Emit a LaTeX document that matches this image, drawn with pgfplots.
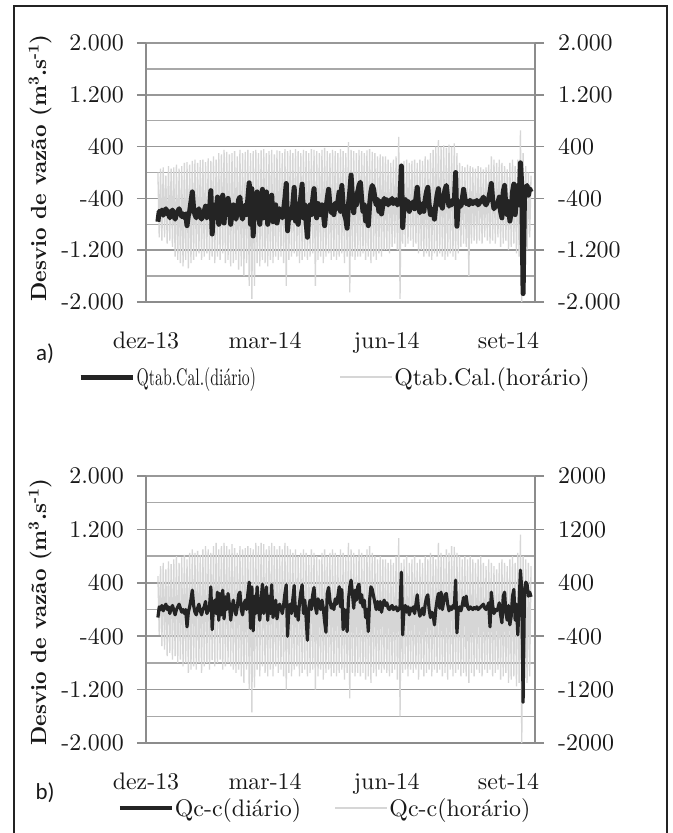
\documentclass[border=0pt]{standalone}
\usepackage{fontspec}
\setmainfont{lmroman10-regular.otf}[BoldFont=lmroman10-bold.otf]
\newfontfamily\carlito{Carlito}
\usepackage{graphicx}
\usepackage{pgfplots}
\usepackage{pgfplotstable}
\pgfplotsset{compat=1.18}

\definecolor{gridmaj}{RGB}{152,152,152}
\definecolor{gridmin}{RGB}{168,168,168}
\definecolor{axisc}{RGB}{140,140,140}
\definecolor{dailyc}{RGB}{36,36,36}
\definecolor{hourc}{RGB}{214,214,214}
\definecolor{framec}{RGB}{35,35,35}
\definecolor{txtc}{RGB}{25,25,25}

\newcommand{\tickfont}{\fontsize{24}{28}\selectfont}

% daily series, panel a (days 9..291 after 1 Dec 2013)
\pgfplotstableread[row sep=\\]{v\\
-760\\ -600\\ -640\\ -580\\ -660\\ -600\\ -560\\ -640\\ -600\\ -700\\
-620\\ -580\\ -650\\ -720\\ -640\\ -600\\ -560\\ -620\\ -680\\ -640\\
-700\\ -640\\ -820\\ -660\\ -600\\ -450\\ -300\\ -560\\ -650\\ -700\\
-620\\ -560\\ -660\\ -720\\ -640\\ -600\\ -520\\ -700\\ -660\\ -600\\
-280\\ -950\\ -600\\ -500\\ -700\\ -380\\ -800\\ -400\\ -720\\ -350\\
-780\\ -450\\ -650\\ -400\\ -560\\ -800\\ -620\\ -500\\ -650\\ -720\\
-600\\ -420\\ -380\\ -650\\ -720\\ -560\\ -500\\ -650\\ -400\\ -160\\
-800\\ -250\\ -980\\ -450\\ -700\\ -300\\ -620\\ -800\\ -500\\ -260\\
-700\\ -560\\ -300\\ -800\\ -450\\ -700\\ -350\\ -760\\ -600\\ -500\\
-780\\ -650\\ -560\\ -620\\ -700\\ -580\\ -400\\ -170\\ -900\\ -620\\
-560\\ -700\\ -480\\ -230\\ -750\\ -600\\ -800\\ -540\\ -380\\ -180\\
-700\\ -500\\ -760\\ -1000\\ -620\\ -500\\ -650\\ -420\\ -250\\ -600\\
-700\\ -480\\ -560\\ -650\\ -500\\ -620\\ -820\\ -560\\ -400\\ -260\\
-500\\ -620\\ -560\\ -650\\ -480\\ -560\\ -450\\ -300\\ -600\\ -200\\
-520\\ -650\\ -720\\ -860\\ -500\\ -300\\ -40\\ -400\\ -620\\ -350\\
-500\\ -300\\ -200\\ -150\\ -420\\ -600\\ -500\\ -750\\ -650\\ -820\\
-500\\ -300\\ -200\\ -260\\ -400\\ -500\\ -420\\ -600\\ -450\\ -640\\
-500\\ -400\\ -480\\ -420\\ -500\\ -430\\ -470\\ -400\\ -480\\ -450\\
-420\\ -500\\ -460\\ -400\\ 100\\ -850\\ -500\\ -420\\ -560\\ -450\\
-600\\ -480\\ -520\\ -450\\ -560\\ -400\\ -230\\ -500\\ -620\\ -540\\
-480\\ -600\\ -420\\ -300\\ -230\\ -500\\ -650\\ -560\\ -600\\ -720\\
-500\\ -350\\ -250\\ -500\\ -450\\ -550\\ -380\\ -260\\ -200\\ -400\\
-520\\ -450\\ -500\\ -420\\ -480\\ 0\\ -830\\ -500\\ -450\\ -520\\
-420\\ -260\\ -400\\ -480\\ -450\\ -500\\ -430\\ -460\\ -480\\ -450\\
-470\\ -430\\ -500\\ -470\\ -440\\ -420\\ -380\\ -470\\ -500\\ -450\\
-400\\ -300\\ -170\\ -420\\ -560\\ -500\\ -520\\ -470\\ -380\\ -600\\
-700\\ -300\\ -200\\ -550\\ -650\\ -450\\ -750\\ -600\\ -300\\ -180\\
-650\\ -400\\ -200\\ -500\\ 150\\ -200\\ -1870\\ -400\\ -250\\ -200\\
-350\\ -250\\ -300\\
}\dailyA

% hourly series, panel a, thinned to one value a day (alternate highs and lows)
\pgfplotstableread[row sep=\\]{v\\
0\\ -1000\\ 60\\ -1050\\ 80\\ -1000\\ -50\\ -1100\\ 100\\ -1050\\ 60\\ -1150\\
80\\ -1300\\ 120\\ -1350\\ 60\\ -1400\\ 100\\ -1450\\ 150\\ -1350\\ 160\\ -1480\\ 120\\ -1400\\
180\\ -1350\\ 200\\ -1300\\ 150\\ -1250\\ 190\\ -1350\\ 200\\ -1300\\ 160\\ -1250\\ 220\\ -1350\\
180\\ -1300\\ 250\\ -1400\\ 200\\ -1300\\ 300\\ -1350\\ 280\\ -1250\\ 350\\ -1400\\
320\\ -1350\\ 280\\ -1450\\ 300\\ -1400\\ 330\\ -1350\\ 250\\ -1500\\ 350\\ -1450\\ 300\\ -1600\\ 320\\ -1400\\ 350\\ -1750\\ 300\\ -1950\\
330\\ -1750\\ 350\\ -1400\\ 300\\ -1450\\ 340\\ -1350\\ 360\\ -1400\\ 300\\ -1450\\ 330\\ -1350\\ 350\\ -1400\\ 280\\ -1300\\ 340\\ -1350\\
330\\ -1300\\ 300\\ -1400\\ 360\\ -1750\\ 330\\ -1350\\ 350\\ -1300\\ 300\\ -1250\\ 360\\ -1300\\ 330\\ -1400\\ 300\\ -1350\\ 350\\ -1300\\
330\\ -1350\\ 300\\ -1300\\ 360\\ -1250\\ 350\\ -1750\\ 330\\ -1350\\ 300\\ -1300\\ 350\\ -1400\\ 380\\ -1300\\ 330\\ -1250\\ 300\\ -1350\\
350\\ -1300\\ 330\\ -1350\\ 300\\ -1300\\ 360\\ -1250\\ 330\\ -1400\\ 300\\ -1300\\ 470\\ -1850\\ 350\\ -1300\\ 330\\ -1350\\ 300\\ -1300\\
350\\ -1300\\ 330\\ -1250\\ 300\\ -1350\\ 340\\ -1300\\ 360\\ -1400\\ 320\\ -1300\\ 300\\ -1350\\ 250\\ -1250\\ 280\\ -1300\\ 250\\ -1200\\
250\\ -1200\\ 200\\ -1250\\ 150\\ -1150\\ 200\\ -1100\\ 250\\ -1200\\ 550\\ -1950\\ 150\\ -1100\\ 180\\ -1150\\ 200\\ -1100\\ 150\\ -1050\\
180\\ -1150\\ 200\\ -1100\\ 150\\ -1250\\ 200\\ -1200\\ 180\\ -1300\\ 250\\ -1250\\ 200\\ -1300\\ 300\\ -1350\\ 350\\ -1250\\ 400\\ -1300\\
500\\ -1250\\ 400\\ -1300\\ 420\\ -1350\\ 380\\ -1300\\ 430\\ -1250\\ 400\\ -1300\\ 450\\ -1350\\ 300\\ -1250\\ 150\\ -1150\\ 100\\ -1100\\
80\\ -1150\\ 120\\ -1600\\ 100\\ -1100\\ 80\\ -1050\\ 60\\ -1100\\ 100\\ -1050\\ 80\\ -1100\\ 50\\ -1000\\ 80\\ -1050\\ 120\\ -1100\\
250\\ -1050\\ 200\\ -1100\\ 150\\ -1000\\ 200\\ -1150\\ 150\\ -1100\\ 100\\ -1050\\ 50\\ -1200\\ 150\\ -1150\\ 200\\ -1100\\ 100\\ -1250\\
200\\ -1300\\ 650\\ -2000\\ 300\\ -1400\\ 100\\ -1200\\ 0\\ -1000\\ -50\\
}\hourA

% daily series, panel b
\pgfplotstableread[row sep=\\]{v\\
-120\\ 40\\ 0\\ 60\\ -20\\ 40\\ 80\\ 0\\ 40\\ -60\\
20\\ 60\\ -10\\ -80\\ 0\\ 40\\ 80\\ 20\\ -40\\ 0\\
-60\\ 0\\ -260\\ -40\\ 40\\ 150\\ 290\\ 60\\ -40\\ -80\\
20\\ 80\\ -20\\ -80\\ 0\\ 40\\ 120\\ -60\\ -20\\ 40\\
340\\ -300\\ 40\\ 140\\ -60\\ 260\\ -160\\ 240\\ -80\\ 290\\
-140\\ 190\\ 0\\ 240\\ 80\\ -160\\ 20\\ 140\\ 0\\ -80\\
40\\ 220\\ 260\\ 0\\ -80\\ 80\\ 140\\ 0\\ 240\\ 410\\
-280\\ 340\\ -320\\ 200\\ -60\\ 340\\ 20\\ -160\\ 140\\ 380\\
-60\\ 80\\ 340\\ -160\\ 200\\ -60\\ 370\\ -120\\ 40\\ 140\\
-140\\ 0\\ 80\\ 20\\ -60\\ 60\\ 240\\ 370\\ -400\\ 20\\
80\\ -60\\ 160\\ 360\\ -100\\ 40\\ -160\\ 100\\ 260\\ 370\\
-60\\ 140\\ -120\\ -460\\ 20\\ 140\\ 0\\ 220\\ 330\\ 40\\
-60\\ 160\\ 80\\ 0\\ 140\\ 20\\ -180\\ -340\\ 240\\ 330\\
140\\ 20\\ 80\\ 0\\ 160\\ 80\\ 200\\ 340\\ 40\\ 300\\
-300\\ 0\\ -80\\ -330\\ 140\\ 340\\ 440\\ 240\\ 20\\ 290\\
140\\ 340\\ 380\\ 100\\ 220\\ 40\\ 140\\ -120\\ 0\\ -330\\
140\\ 340\\ 300\\ 200\\ 100\\ 0\\ 120\\ 0\\ 120\\ -40\\
80\\ 140\\ 60\\ 100\\ 20\\ 0\\ 40\\ 60\\ 0\\ 20\\
40\\ -20\\ 0\\ 40\\ 560\\ -380\\ 20\\ 60\\ -40\\ 40\\
-80\\ 20\\ -20\\ 40\\ -60\\ 80\\ 220\\ 0\\ -100\\ -40\\
20\\ -80\\ 80\\ 180\\ 220\\ 0\\ -120\\ -40\\ -80\\ -230\\
0\\ 140\\ 240\\ 20\\ 260\\ 0\\ 120\\ 220\\ 240\\ 80\\
-20\\ 40\\ 0\\ 60\\ 20\\ 440\\ -350\\ 0\\ 40\\ -20\\
60\\ 180\\ 60\\ 200\\ 40\\ 0\\ 40\\ 20\\ 0\\ 30\\
10\\ 40\\ 0\\ 20\\ 40\\ 60\\ 80\\ 20\\ 0\\ 40\\
100\\ -260\\ 260\\ 60\\ -60\\ 0\\ -20\\ 20\\ 100\\ -80\\
-200\\ 200\\ 260\\ -60\\ -160\\ 60\\ -230\\ -100\\ 200\\ 300\\
-160\\ 80\\ -380\\ 100\\ 590\\ 300\\ -1390\\ 200\\ 410\\ 380\\
200\\ 260\\ 190\\
}\dailyB

% hourly series, panel b, thinned to one value a day
\pgfplotstableread[row sep=\\]{v\\
500\\ -380\\ 650\\ -550\\ 700\\ -600\\ 600\\ -700\\ 720\\ -650\\ 680\\ -750\\
750\\ -700\\ 800\\ -800\\ 700\\ -750\\ 780\\ -850\\ 820\\ -800\\ 750\\ -950\\ 850\\ -900\\
900\\ -850\\ 850\\ -900\\ 880\\ -800\\ 820\\ -950\\ 900\\ -850\\ 950\\ -800\\ 900\\ -900\\
850\\ -760\\ 950\\ -850\\ 1000\\ -800\\ 900\\ -750\\ 950\\ -900\\ 1000\\ -850\\
950\\ -800\\ 900\\ -850\\ 980\\ -900\\ 920\\ -950\\ 850\\ -900\\ 950\\ -1000\\ 900\\ -1100\\ 920\\ -900\\ 950\\ -1200\\ 920\\ -1540\\
900\\ -1170\\ 1000\\ -900\\ 950\\ -1000\\ 1000\\ -850\\ 980\\ -950\\ 900\\ -1000\\ 950\\ -900\\ 1000\\ -1000\\ 950\\ -850\\ 900\\ -950\\
950\\ -900\\ 900\\ -1000\\ 1000\\ -1200\\ 950\\ -950\\ 900\\ -1000\\ 850\\ -900\\ 900\\ -850\\ 800\\ -1000\\ 850\\ -950\\ 900\\ -900\\
850\\ -1000\\ 800\\ -950\\ 900\\ -900\\ 850\\ -1200\\ 800\\ -1000\\ 750\\ -900\\ 850\\ -1050\\ 900\\ -950\\ 800\\ -900\\ 850\\ -1000\\
900\\ -950\\ 850\\ -1000\\ 800\\ -950\\ 900\\ -900\\ 850\\ -1050\\ 800\\ -950\\ 1000\\ -1330\\ 900\\ -950\\ 850\\ -1000\\ 800\\ -950\\
900\\ -1000\\ 850\\ -950\\ 800\\ -1050\\ 900\\ -1000\\ 950\\ -1100\\ 850\\ -950\\ 800\\ -1000\\ 750\\ -900\\ 800\\ -950\\ 750\\ -900\\
750\\ -950\\ 700\\ -1000\\ 750\\ -950\\ 700\\ -900\\ 800\\ -1050\\ 1070\\ -1600\\ 700\\ -950\\ 750\\ -900\\ 800\\ -1000\\ 700\\ -900\\
750\\ -950\\ 800\\ -900\\ 700\\ -1050\\ 750\\ -900\\ 700\\ -1000\\ 800\\ -950\\ 750\\ -900\\ 850\\ -1000\\ 800\\ -900\\ 750\\ -950\\
1000\\ -900\\ 850\\ -1000\\ 800\\ -950\\ 900\\ -1050\\ 850\\ -900\\ 950\\ -1000\\ 940\\ -950\\ 850\\ -900\\ 800\\ -1000\\ 750\\ -950\\
800\\ -1000\\ 750\\ -1100\\ 800\\ -950\\ 750\\ -1000\\ 700\\ -900\\ 750\\ -950\\ 800\\ -1000\\ 700\\ -900\\ 650\\ -950\\ 750\\ -900\\
700\\ -1000\\ 650\\ -950\\ 600\\ -900\\ 700\\ -1050\\ 750\\ -1000\\ 700\\ -950\\ 650\\ -1100\\ 750\\ -1050\\ 800\\ -1000\\ 700\\ -1150\\
850\\ -1100\\ 1120\\ -2000\\ 800\\ -1300\\ 750\\ -1100\\ 700\\ -1000\\ 650\\
}\hourB

\pgfplotsset{
  base/.style={
    scale only axis, width=389bp,
    xmin=0, xmax=294, ymin=-2000, ymax=2000,
    ytick={-2000,-1200,-400,400,1200,2000},
    tick align=outside, major tick length=9bp,
    ytick style={axisc, line width=1.6bp},
    axis line style={axisc, line width=1.8bp, -},
    yticklabel style={font=\tickfont, text=txtc, inner sep=0pt},
  },
  leftax/.style={base,
    axis x line*=bottom, axis y line*=left,
    minor ytick={-1600,-800,0,800,1600}, minor tick length=0pt,
    ymajorgrids, yminorgrids,
    major grid style={gridmaj, line width=1.6bp},
    minor grid style={gridmin, line width=1.4bp},
    yticklabels={-2.000,-1.200,-400,400,1.200,2.000},
    yticklabel style={anchor=east, xshift=-13bp},
    xtick={0,90,182,274},
    xticklabels={dez-13,mar-14,jun-14,set-14},
    xtick style={draw=none},
    xticklabel style={font=\tickfont, text=txtc, inner xsep=0pt, inner ysep=21bp, anchor=north},
    ylabel={Desvio de vazão (m\textsuperscript{3}.s\textsuperscript{-1})},
    ylabel style={font=\bfseries\fontsize{22}{26}\selectfont, text=txtc, anchor=center},
    legend columns=2, reverse legend,
    legend cell align=left,
  },
  rightax/.style={base, axis x line=none, axis y line*=right,
    yticklabel style={anchor=west, xshift=14bp}},
}

\begin{document}
\begin{tikzpicture}
\useasboundingbox (0,0) rectangle (673bp,-833bp);
\fill[white] (0,0) rectangle (673bp,-833bp);
\draw[framec, line width=2.4bp] (14bp,-6bp) rectangle (667bp,-840bp);

% ---- panel a
\begin{axis}[leftax, at={(146bp,-302bp)}, anchor=south west, height=259bp,
  ylabel style={at={(axis description cs:-0.2725,0.517)}},
  legend image code/.code={\draw[#1] (0bp,0bp) -- (52bp,0bp);},
  legend style={at={(axis description cs:-0.1748,-0.2896)}, anchor=west,
    draw=none, fill=none, font=\tickfont, text=txtc, inner sep=0pt,
    nodes={inner sep=1.5bp},
    /tikz/every even column/.append style={column sep=82bp}},
]
\addplot[hourc, line width=1.3bp] table[x expr=\coordindex+9, y=v] {\hourA};
\addlegendentry{Qtab.Cal.(horário)}
\addplot[dailyc, line width=5bp, line join=round] table[x expr=\coordindex+9, y=v] {\dailyA};
\addlegendentry{\scalebox{0.66}[1]{Qtab.Cal.(diário)}}
\end{axis}
\begin{axis}[rightax, at={(146bp,-302bp)}, anchor=south west, height=259bp,
  yticklabels={-2.000,-1.200,-400,400,1.200,2.000}]
\end{axis}
\node[font=\carlito\fontsize{23}{27}\selectfont, text=txtc] at (45bp,-354bp) {a)};

% ---- panel b
\begin{axis}[leftax, at={(146bp,-743bp)}, anchor=south west, height=267bp,
  ylabel style={at={(axis description cs:-0.2725,0.49)}},
  legend image code/.code={\draw[#1] (0bp,0bp) -- (52bp,0bp);},
  legend style={at={(axis description cs:-0.072,-0.2434)}, anchor=west,
    draw=none, fill=none, font=\tickfont, text=txtc, inner sep=0pt,
    nodes={inner sep=1.5bp},
    /tikz/every even column/.append style={column sep=32bp}},
]
\addplot[hourc, line width=1.3bp] table[x expr=\coordindex+9, y=v] {\hourB};
\addlegendentry{Qc-c(horário)}
\addplot[dailyc, line width=3.2bp, line join=round] table[x expr=\coordindex+9, y=v] {\dailyB};
\addlegendentry{Qc-c(diário)}
\end{axis}
\begin{axis}[rightax, at={(146bp,-743bp)}, anchor=south west, height=267bp,
  yticklabels={-2000,-1200,-400,400,1200,2000}]
\end{axis}
\node[font=\carlito\fontsize{23}{27}\selectfont, text=txtc] at (45bp,-793bp) {b)};
\end{tikzpicture}
\end{document}
